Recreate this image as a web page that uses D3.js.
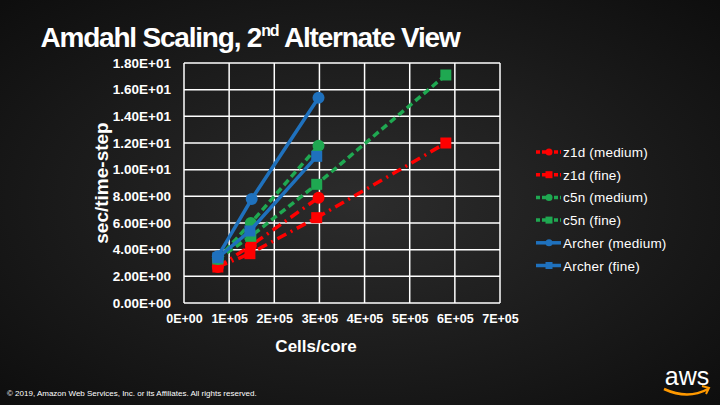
<!DOCTYPE html>
<html><head><meta charset="utf-8">
<script src="https://cdn.jsdelivr.net/npm/d3@7"></script>
<style>html,body{margin:0;padding:0;background:#161616;}svg{display:block;}</style>
</head><body>
<svg id="c" width="720" height="405"></svg>
<script>
const xTicks = [0, 100000, 200000, 300000, 400000, 500000, 600000, 700000];
const yTicks = [0, 2, 4, 6, 8, 10, 12, 14, 16, 18];

const z1dMediumX = [75000, 148000, 298000];
const z1dMediumY = [2.7, 4.3, 7.9];
const z1dFineX = [75000, 146000, 294000, 580000];
const z1dFineY = [2.7, 3.7, 6.4, 12.0];
const c5nMediumX = [75000, 148000, 298000];
const c5nMediumY = [3.3, 6.0, 11.8];
const c5nFineX = [75000, 148000, 294000, 580000];
const c5nFineY = [3.3, 5.0, 8.9, 17.1];
const archerMediumX = [75000, 150000, 298000];
const archerMediumY = [3.5, 7.8, 15.4];
const archerFineX = [75000, 146000, 294000];
const archerFineY = [3.4, 5.4, 11.0];

const seriesNames = ["z1d (medium)", "z1d (fine)", "c5n (medium)", "c5n (fine)", "Archer (medium)", "Archer (fine)"];

const series = [
  {name: seriesNames[0], xs: z1dMediumX, ys: z1dMediumY, color: "#ff0000", dash: "10,5,2,5", shape: "circle"},
  {name: seriesNames[1], xs: z1dFineX, ys: z1dFineY, color: "#ff0000", dash: "10,5,2,5", shape: "square"},
  {name: seriesNames[2], xs: c5nMediumX, ys: c5nMediumY, color: "#1fa851", dash: "7,4", shape: "circle"},
  {name: seriesNames[3], xs: c5nFineX, ys: c5nFineY, color: "#1fa851", dash: "7,4", shape: "square"},
  {name: seriesNames[4], xs: archerMediumX, ys: archerMediumY, color: "#1f71bd", dash: null, shape: "circle"},
  {name: seriesNames[5], xs: archerFineX, ys: archerFineY, color: "#1f71bd", dash: null, shape: "square"}
];

const svg = d3.select("#c");
const defs = svg.append("defs");
const rg = defs.append("radialGradient").attr("id","bg").attr("cx","50%").attr("cy","50%").attr("r","70%");
rg.append("stop").attr("offset","0%").attr("stop-color","#2c2c2c");
rg.append("stop").attr("offset","100%").attr("stop-color","#0e0e0e");
svg.append("rect").attr("width",720).attr("height",405).attr("fill","url(#bg)");

const font = "'Liberation Sans', Arial, sans-serif";
const L = 184, R = 500, T = 63, B = 303;
const x = d3.scaleLinear().domain([0, 700000]).range([L, R]);
const y = d3.scaleLinear().domain([0, 18]).range([B, T]);

// title
const title = svg.append("text").attr("x", 250).attr("y", 47).attr("text-anchor","middle")
  .attr("fill","#fff").attr("font-family", font).attr("font-weight","bold").attr("font-size",28)
  .attr("letter-spacing","-1.2");
title.append("tspan").text("Amdahl Scaling, 2");
title.append("tspan").attr("font-size",16).attr("dy",-11).text("nd");
title.append("tspan").attr("dy",11).text(" Alternate View");

// grid
const g = svg.append("g");
g.selectAll(".vg").data(xTicks).join("line")
  .attr("x1", d=>x(d)).attr("x2", d=>x(d)).attr("y1", T).attr("y2", B)
  .attr("stroke","#fff").attr("stroke-width",1.5);
g.selectAll(".hg").data(yTicks).join("line")
  .attr("y1", d=>y(d)).attr("y2", d=>y(d)).attr("x1", L).attr("x2", R)
  .attr("stroke","#fff").attr("stroke-width",1.5);

// axes
const yAxis = d3.axisLeft(y).tickValues(yTicks).tickSize(0).tickPadding(13)
  .tickFormat(d => d.toExponential(2).toUpperCase().replace(/E([+-])(\d)$/, "E$10$2"));
const ya = svg.append("g").attr("transform", `translate(${L},0)`).call(yAxis);
ya.select(".domain").remove();
ya.selectAll("text").attr("fill","#fff").attr("font-family",font).attr("font-weight","bold").attr("font-size",13.5);

const xAxis = d3.axisBottom(x).tickValues(xTicks).tickSize(0).tickPadding(11)
  .tickFormat(d => d.toExponential(0).toUpperCase().replace(/E([+-])(\d)$/, "E$10$2"));
const xa = svg.append("g").attr("transform", `translate(0,${B})`).call(xAxis);
xa.select(".domain").remove();
xa.selectAll("text").attr("fill","#fff").attr("font-family",font).attr("font-weight","bold").attr("font-size",12.5);

svg.append("text").attr("x",316).attr("y",352).attr("text-anchor","middle").attr("fill","#fff")
  .attr("font-family",font).attr("font-weight","bold").attr("font-size",17).text("Cells/core");
svg.append("text").attr("transform","translate(108,183) rotate(-90)").attr("text-anchor","middle").attr("fill","#fff")
  .attr("font-family",font).attr("font-weight","bold").attr("font-size",19).text("sec/time-step");

// series
const line = d3.line().x(d=>x(d[0])).y(d=>y(d[1]));
series.forEach(s => {
  const pts = s.xs.map((v,i)=>[v, s.ys[i]]);
  const gs = svg.append("g");
  gs.append("path").attr("d", line(pts)).attr("fill","none").attr("stroke", s.color)
    .attr("stroke-width",3.5).attr("stroke-dasharray", s.dash);
  if (s.shape === "circle") {
    gs.selectAll("circle").data(pts).join("circle").attr("cx", d=>x(d[0])).attr("cy", d=>y(d[1]))
      .attr("r",6).attr("fill", s.color);
  } else {
    gs.selectAll("rect").data(pts).join("rect").attr("x", d=>x(d[0])-5.5).attr("y", d=>y(d[1])-5.5)
      .attr("width",11).attr("height",11).attr("fill", s.color);
  }
});

// legend
const lg = svg.append("g");
series.forEach((s,i) => {
  const yy = 152 + i*22.7;
  lg.append("line").attr("x1",536).attr("x2",561).attr("y1",yy).attr("y2",yy)
    .attr("stroke", s.color).attr("stroke-width",3.5).attr("stroke-dasharray", s.dash ? "4,2" : null);
  if (s.shape === "circle") lg.append("circle").attr("cx",549).attr("cy",yy).attr("r",3.5).attr("fill",s.color);
  else lg.append("rect").attr("x",545.5).attr("y",yy-3.5).attr("width",7).attr("height",7).attr("fill",s.color);
  lg.append("text").attr("x",563).attr("y",yy+5).attr("fill","#fff").attr("font-family",font)
    .attr("font-size",13.5).attr("letter-spacing","0.2").text(s.name);
});

// footer
svg.append("text").attr("x",7).attr("y",396).attr("fill","#fff").attr("font-family",font)
  .attr("font-size",8).text("© 2019, Amazon Web Services, Inc. or its Affiliates. All rights reserved.");
svg.append("text").attr("x",687).attr("y",385).attr("text-anchor","middle").attr("fill","#fff")
  .attr("font-family",font).attr("font-size",25).text("aws");
svg.append("path").attr("d","M664,389 Q688,400 708,389").attr("fill","none").attr("stroke","#ff9900").attr("stroke-width",2.5);
svg.append("path").attr("d","M702,386 L709,388 L706,394").attr("fill","none").attr("stroke","#ff9900").attr("stroke-width",2);
</script>
</body></html>
